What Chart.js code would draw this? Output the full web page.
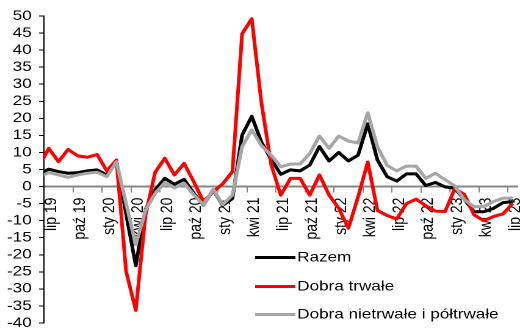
<!DOCTYPE html>
<html>
<head>
<meta charset="utf-8">
<script src="https://cdn.jsdelivr.net/npm/chart.js@4"></script>
<style>
  html, body { margin: 0; padding: 0; background: #fff; overflow: hidden; }
  /* the reference is stretched sideways, so draw narrow and widen */
  #chart { display: block; transform: scaleX(1.2207); transform-origin: 0 0; }
</style>
</head>
<body>
<canvas id="chart" width="426" height="328"></canvas>
<script>
const months = ['cze 19','lip 19','sie 19','wrz 19','paź 19','lis 19','gru 19',
  'sty 20','lut 20','mar 20','kwi 20','maj 20','cze 20','lip 20','sie 20','wrz 20','paź 20','lis 20','gru 20',
  'sty 21','lut 21','mar 21','kwi 21','maj 21','cze 21','lip 21','sie 21','wrz 21','paź 21','lis 21','gru 21',
  'sty 22','lut 22','mar 22','kwi 22','maj 22','cze 22','lip 22','sie 22','wrz 22','paź 22','lis 22','gru 22',
  'sty 23','lut 23','mar 23','kwi 23','maj 23','cze 23','lip 23'];

const razem = [3.7, 5.1, 4.4, 3.9, 4.1, 4.6, 4.9, 3.4, 7.3, -8.0, -23.2, -6.8, -1.0, 2.4, 0.7, 2.1, -2.0, -5.4, -1.0,
  -5.5, -3.5, 15.1, 20.6, 13.0, 8.0, 3.6, 4.9, 4.6, 6.3, 11.7, 7.5, 10.0, 7.5, 9.2, 18.4, 7.8, 2.9, 1.6, 3.7, 3.7,
  0.3, 1.2, -0.1, -0.5, -3.8, -7.4, -7.4, -6.4, -4.7, -4.4];

const dobraTrwale = [6.0, 11.2, 7.3, 10.9, 9.0, 8.6, 9.4, 4.6, 7.8, -24.9, -36.3, -8.5, 4.2, 8.3, 3.4, 6.8, 1.4, -4.4, -1.5,
  0.8, 4.4, 44.8, 49.2, 24.5, 6.5, -2.5, 2.4, 2.4, -2.5, 3.4, -2.5, -6.4, -12.2, -3.0, 7.2, -7.0, -8.5, -9.5, -5.0, -3.7,
  -5.6, -7.2, -7.3, -0.6, -2.3, -8.3, -10.0, -8.8, -8.0, -4.9];

const dobraNietrwale = [2.8, 4.1, 3.4, 2.7, 3.4, 3.9, 4.2, 2.9, 7.3, -5.0, -17.0, -7.0, -2.0, 1.2, -0.4, 1.0, -2.4, -5.3, -0.8,
  -5.3, -2.5, 11.7, 16.6, 12.0, 9.2, 5.8, 6.6, 6.6, 9.7, 14.8, 11.2, 14.8, 13.3, 12.8, 21.6, 11.7, 6.2, 4.6, 6.0, 6.0,
  2.4, 3.9, 2.0, 0.2, -3.9, -5.9, -5.9, -4.4, -3.4, -3.4];

const seriesNames = ['Razem', 'Dobra trwałe', 'Dobra nietrwałe i półtrwałe'];

const font = { family: '"Liberation Sans", Arial, sans-serif', size: 14 };

// legend sits inside the plot, lower right
const insideLegend = {
  id: 'insideLegend',
  afterDraw(chart) {
    const ctx = chart.ctx;
    const rows = [257.5, 286.5, 314.5];
    ctx.save();
    ctx.font = '14px "Liberation Sans", Arial, sans-serif';
    ctx.textBaseline = 'middle';
    ctx.fillStyle = '#000';
    chart.data.datasets.forEach((ds, i) => {
      ctx.strokeStyle = ds.borderColor;
      ctx.lineWidth = ds.borderWidth;
      ctx.beginPath();
      ctx.moveTo(209, rows[i]);
      ctx.lineTo(242, rows[i]);
      ctx.stroke();
      ctx.fillText(ds.label, 243.5, rows[i]);
    });
    ctx.restore();
  }
};

const line = (label, data, color, order) => ({
  label, data, order,
  borderColor: color,
  backgroundColor: color,
  borderWidth: 3,
  borderJoinStyle: 'round',
  pointRadius: 0,
  tension: 0,
  clip: { left: 0, top: false, right: false, bottom: false }
});

new Chart(document.getElementById('chart'), {
  type: 'line',
  data: {
    labels: months,
    datasets: [
      line(seriesNames[0], razem, '#000000', 3),
      line(seriesNames[1], dobraTrwale, '#ff0000', 2),
      line(seriesNames[2], dobraNietrwale, '#a6a6a6', 1)
    ]
  },
  options: {
    responsive: false,
    animation: false,
    devicePixelRatio: 2,
    layout: { padding: { left: 0, top: 16, right: 2, bottom: 5 } },
    plugins: { legend: { display: false }, tooltip: { enabled: false } },
    scales: {
      x: {
        type: 'category',
        position: { y: 0 },
        min: months[1],
        max: months[months.length - 1],
        offset: true,
        grid: {
          offset: true,
          drawOnChartArea: false,
          tickLength: 5,
          tickWidth: 1,
          tickColor: c => c.index % 3 === 0 ? '#868686' : 'rgba(0,0,0,0)'
        },
        border: { color: '#868686', width: 2 },
        ticks: {
          autoSkip: false,
          minRotation: 90,
          maxRotation: 90,
          padding: 6,
          labelOffset: 2,
          color: '#000',
          font,
          callback(v, i) { return i % 3 === 0 ? this.getLabelForValue(v) : ''; }
        },
        afterFit(s) { s.paddingLeft = 0; s.paddingRight = 0; }
      },
      y: {
        min: -40,
        max: 50,
        ticks: { stepSize: 5, autoSkip: false, padding: 6, color: '#000', font },
        grid: { drawOnChartArea: false, tickLength: 4, tickWidth: 1, tickColor: '#000' },
        border: { color: '#000', width: 1 },
        afterFit(s) { s.width = 36; s.paddingTop = 0; s.paddingBottom = 0; }
      }
    }
  },
  plugins: [insideLegend]
});
</script>
</body>
</html>
